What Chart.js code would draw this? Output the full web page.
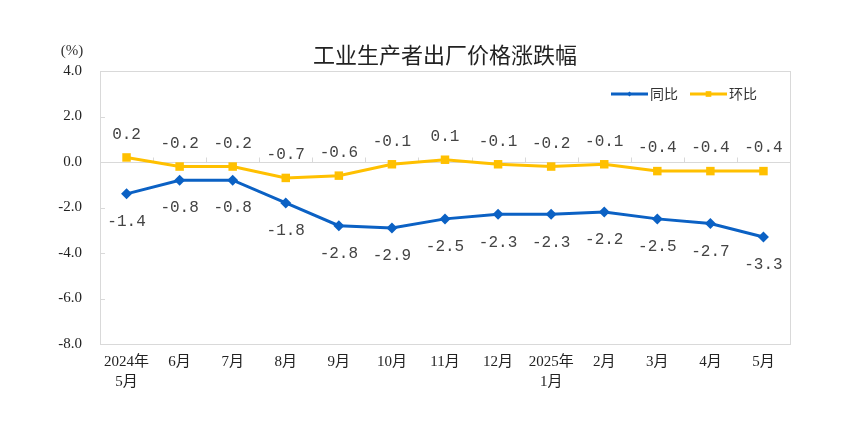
<!DOCTYPE html>
<html>
<head>
<meta charset="utf-8">
<script src="https://cdn.jsdelivr.net/npm/chart.js@4.4.1/dist/chart.umd.min.js"></script>
<style>
  html, body { margin: 0; padding: 0; background: #ffffff; }
  #wrap { width: 864px; height: 427px; }
</style>
</head>
<body>
<div id="wrap"><canvas id="c" width="864" height="427"></canvas></div>
<script>
const categories = [
  ['2024年', '5月'], '6月', '7月', '8月', '9月', '10月', '11月', '12月',
  ['2025年', '1月'], '2月', '3月', '4月', '5月'
];
const yoyValues = [-1.4, -0.8, -0.8, -1.8, -2.8, -2.9, -2.5, -2.3, -2.3, -2.2, -2.5, -2.7, -3.3];
const momValues = [0.2, -0.2, -0.2, -0.7, -0.6, -0.1, 0.1, -0.1, -0.2, -0.1, -0.4, -0.4, -0.4];
const seriesNames = ['同比', '环比'];
const yTicks = [4, 2, 0, -2, -4, -6, -8];
const titleText = '工业生产者出厂价格涨跌幅';
const unitText = '(%)';

const BLUE = '#0B61C4';
const YELLOW = '#FFC000';
const FRAME = '#d9d9d9';

const decorPlugin = {
  id: 'decor',
  beforeDatasetsDraw(chart) {
    const ctx = chart.ctx;
    const a = chart.chartArea;
    const xs = chart.scales.x, ys = chart.scales.y;
    ctx.save();
    ctx.strokeStyle = FRAME;
    ctx.lineWidth = 1;
    ctx.strokeRect(Math.round(a.left) + 0.5, Math.round(a.top) + 0.5,
                   Math.round(a.right - a.left), Math.round(a.bottom - a.top));
    // inner y ticks
    yTicks.forEach(v => {
      const y = Math.round(ys.getPixelForValue(v)) + 0.5;
      ctx.beginPath();
      ctx.moveTo(a.left, y);
      ctx.lineTo(a.left + 5, y);
      ctx.stroke();
    });
    // zero line
    const y0 = Math.round(ys.getPixelForValue(0)) + 0.5;
    ctx.beginPath();
    ctx.moveTo(a.left, y0);
    ctx.lineTo(a.right, y0);
    ctx.stroke();
    // category boundary ticks on zero line (pointing up)
    for (let i = 1; i < categories.length; i++) {
      const x = Math.round((xs.getPixelForValue(i - 1) + xs.getPixelForValue(i)) / 2) + 0.5;
      ctx.beginPath();
      ctx.moveTo(x, y0);
      ctx.lineTo(x, y0 - 5);
      ctx.stroke();
    }
    ctx.restore();
  },
  afterDraw(chart) {
    const ctx = chart.ctx;
    const a = chart.chartArea;
    ctx.save();
    ctx.textAlign = 'center';
    ctx.textBaseline = 'middle';
    // title
    ctx.fillStyle = '#222222';
    ctx.font = '22px "Noto Sans CJK SC", sans-serif';
    ctx.fillText(titleText, (a.left + a.right) / 2, 55);

    // unit label
    ctx.fillStyle = '#333333';
    ctx.font = '15px "Liberation Serif", "Noto Sans CJK SC", serif';
    ctx.fillText(unitText, a.left - 28, 51);

    // data labels
    ctx.font = '16px "Liberation Mono", monospace';
    ctx.fillStyle = '#444444';
    chart.data.datasets.forEach((ds, di) => {
      const meta = chart.getDatasetMeta(di);
      meta.data.forEach((pt, i) => {
        const v = ds.data[i];
        const txt = v.toFixed(1);
        const dy = di === 0 ? 28 : -23;
        ctx.fillText(txt, pt.x, pt.y + dy);
      });
    });

    // legend
    const ly = 94;
    const items = [
      { x0: a.left + 511, color: BLUE, style: 'rectRot', r: 2.5, label: seriesNames[0] },
      { x0: a.left + 590, color: YELLOW, style: 'rect', r: 4, label: seriesNames[1] }
    ];
    items.forEach(it => {
      ctx.strokeStyle = it.color;
      ctx.lineWidth = 3;
      ctx.beginPath();
      ctx.moveTo(it.x0, ly);
      ctx.lineTo(it.x0 + 37, ly);
      ctx.stroke();
      ctx.fillStyle = it.color;
      Chart.helpers.drawPoint(ctx, { pointStyle: it.style, radius: it.r, borderWidth: 0 }, it.x0 + 18.5, ly);
      ctx.fillStyle = '#333333';
      ctx.font = '14px "Noto Sans CJK SC", sans-serif';
      ctx.textAlign = 'left';
      ctx.fillText(it.label, it.x0 + 39, ly);
    });
    ctx.restore();
  }
};

new Chart(document.getElementById('c'), {
  type: 'line',
  data: {
    labels: categories,
    datasets: [
      {
        label: seriesNames[0],
        data: yoyValues,
        borderColor: BLUE,
        backgroundColor: BLUE,
        borderWidth: 3,
        pointStyle: 'rectRot',
        pointRadius: 5.5,
        pointBorderWidth: 0,
        tension: 0
      },
      {
        label: seriesNames[1],
        data: momValues,
        borderColor: YELLOW,
        backgroundColor: YELLOW,
        borderWidth: 3,
        pointStyle: 'rect',
        pointRadius: 6,
        pointBorderWidth: 0,
        tension: 0
      }
    ]
  },
  options: {
    responsive: false,
    animation: false,
    devicePixelRatio: 1,
    layout: { padding: { left: 0, right: 74, top: 71, bottom: 0 } },
    plugins: {
      legend: { display: false },
      tooltip: { enabled: false },
      title: { display: false }
    },
    scales: {
      x: {
        type: 'category',
        offset: true,
        grid: { display: false, drawTicks: false },
        border: { display: false },
        ticks: {
          color: '#222222',
          font: { family: '"Liberation Serif", "Noto Sans CJK SC", serif', size: 15, lineHeight: 1.33 },
          padding: 8,
          maxRotation: 0,
          autoSkip: false
        },
        afterFit(scale) { scale.height = 83; }
      },
      y: {
        min: -8,
        max: 4,
        grid: { display: false, drawTicks: false },
        border: { display: false },
        ticks: {
          stepSize: 2,
          color: '#222222',
          font: { family: '"Liberation Serif", serif', size: 15 },
          padding: 18,
          callback: (v) => Number(v).toFixed(1)
        },
        afterFit(scale) { scale.width = 100; }
      }
    }
  },
  plugins: [decorPlugin]
});
</script>
</body>
</html>
